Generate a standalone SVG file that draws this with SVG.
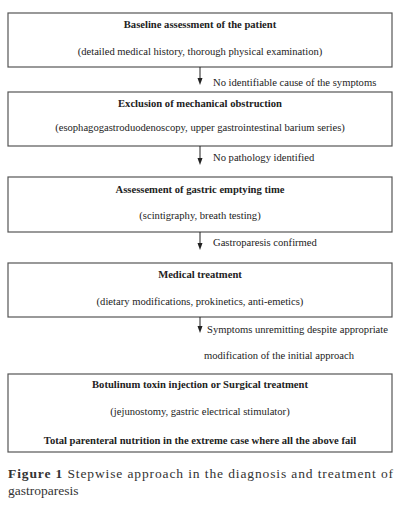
<svg xmlns="http://www.w3.org/2000/svg" width="406" height="519" viewBox="0 0 406 519">
<style>
.box{fill:#fff;stroke:#555;stroke-width:1.2}
.t{font-family:"Liberation Serif","Times New Roman",serif;font-size:10.6px;fill:#222;text-anchor:middle}
.b{font-weight:bold}
.l{font-family:"Liberation Serif","Times New Roman",serif;font-size:10.6px;fill:#222}
.cap{font-family:"Liberation Serif","Times New Roman",serif;font-size:13.5px;fill:#333}
.ln{stroke:#222;stroke-width:1}
.hd{fill:#222}
</style>
<rect width="406" height="519" fill="#fff"/>
<g id="n1">
<rect class="box" x="8" y="13" width="384" height="54"/>
<text class="t b" x="200" y="28">Baseline assessment of the patient</text>
<text class="t" x="200" y="55">(detailed medical history, thorough physical examination)</text>
</g>
<g id="n2">
<rect class="box" x="8" y="92" width="384" height="54"/>
<text class="t b" x="200" y="107">Exclusion of mechanical obstruction</text>
<text class="t" x="200" y="131">(esophagogastroduodenoscopy, upper gastrointestinal barium series)</text>
</g>
<g id="n3">
<rect class="box" x="8" y="177" width="384" height="55"/>
<text class="t b" x="200" y="193">Assessement of gastric emptying time</text>
<text class="t" x="200" y="219">(scintigraphy, breath testing)</text>
</g>
<g id="n4">
<rect class="box" x="8" y="263" width="384" height="54"/>
<text class="t b" x="200" y="278">Medical treatment</text>
<text class="t" x="200" y="305">(dietary modifications, prokinetics, anti-emetics)</text>
</g>
<g id="n5">
<rect class="box" x="8" y="374" width="384" height="78"/>
<text class="t b" x="200" y="388">Botulinum toxin injection or Surgical treatment</text>
<text class="t" x="200" y="415">(jejunostomy, gastric electrical stimulator)</text>
<text class="t b" x="200" y="444">Total parenteral nutrition in the extreme case where all the above fail</text>
</g>
<g id="connectors">
<line class="ln" x1="200" y1="67" x2="200" y2="78"/>
<path class="hd" d="M197.5,78 L202.5,78 L200,85 Z"/>
<line class="ln" x1="200" y1="146" x2="200" y2="158"/>
<path class="hd" d="M197.5,158 L202.5,158 L200,165 Z"/>
<line class="ln" x1="200" y1="232" x2="200" y2="243"/>
<path class="hd" d="M197.5,243 L202.5,243 L200,250 Z"/>
<line class="ln" x1="200" y1="317" x2="200" y2="326"/>
<path class="hd" d="M197.5,326 L202.5,326 L200,333 Z"/>
<text class="l" x="213" y="86">No identifiable cause of the symptoms</text>
<text class="l" x="213" y="161">No pathology identified</text>
<text class="l" x="213" y="246">Gastroparesis confirmed</text>
<text class="l" x="207" y="333">Symptoms unremitting despite appropriate</text>
<text class="l" x="204" y="359">modification of the initial approach</text>
</g>
<text class="cap" x="8" y="478" textLength="385" lengthAdjust="spacing"><tspan font-weight="bold">Figure 1</tspan> Stepwise approach in the diagnosis and treatment of</text>
<text class="cap" x="8" y="495">gastroparesis</text>
</svg>
